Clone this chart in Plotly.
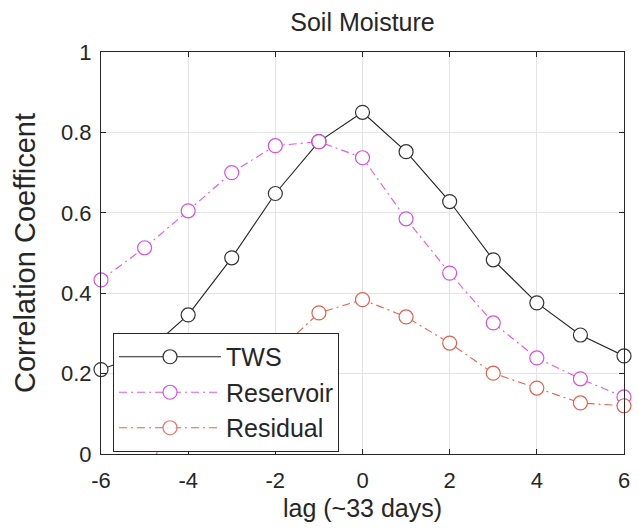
import plotly.graph_objects as go

lags = [-6, -5, -4, -3, -2, -1, 0, 1, 2, 3, 4, 5, 6]
tws = [0.21, 0.25, 0.346, 0.488, 0.648, 0.777, 0.85, 0.752, 0.628, 0.483, 0.376, 0.296, 0.244]
reservoir = [0.433, 0.513, 0.605, 0.70, 0.767, 0.777, 0.737, 0.585, 0.45, 0.326, 0.239, 0.187, 0.142]
residual = [-0.09, -0.02, 0.06, 0.16, 0.25, 0.351, 0.384, 0.341, 0.276, 0.201, 0.164, 0.127, 0.12]

x_ticks = [-6, -4, -2, 0, 2, 4, 6]
x_ticktext = ["-6", "-4", "-2", "0", "2", "4", "6"]
y_ticks = [0, 0.2, 0.4, 0.6, 0.8, 1]
y_ticktext = ["0", "0.2", "0.4", "0.6", "0.8", "1"]

FONT = "Liberation Sans, Arial, sans-serif"
INK = "#262626"
DASHDOT = "8px,4px,2px,4px"

fig = go.Figure()

fig.add_trace(go.Scatter(
    x=lags, y=tws, name="TWS", mode="lines+markers",
    line=dict(color="#222222", width=1.1),
    marker=dict(symbol="circle", size=14, color="white",
                line=dict(color="#333333", width=1.2)),
    cliponaxis=False,
))
fig.add_trace(go.Scatter(
    x=lags, y=reservoir, name="Reservoir", mode="lines+markers",
    line=dict(color="#e35ae3", width=1.1, dash=DASHDOT),
    marker=dict(symbol="circle", size=14, color="white",
                line=dict(color="#d84fe0", width=1.2)),
    cliponaxis=False,
))
fig.add_trace(go.Scatter(
    x=lags, y=residual, name="Residual", mode="lines+markers",
    line=dict(color="#e6604f", width=1.1, dash=DASHDOT),
    marker=dict(symbol="circle", size=14, color="white",
                opacity=[1 if v >= 0 else 0 for v in residual],
                line=dict(color="#e0604f", width=1.2)),
    cliponaxis=False,
))

axis_common = dict(
    showline=True, linecolor=INK, linewidth=1, mirror="ticks",
    ticks="inside", ticklen=5, tickcolor=INK, tickwidth=1,
    showgrid=True, gridcolor="#e4e4e4", gridwidth=1,
    zeroline=False,
    tickfont=dict(family=FONT, size=22, color=INK),
)

fig.update_layout(
    width=639, height=530,
    margin=dict(l=101, r=9, t=52, b=76),
    paper_bgcolor="white", plot_bgcolor="white",
    font=dict(family=FONT, color=INK),
    title=dict(text="Soil Moisture", x=0.5, xref="paper", xanchor="center",
               y=1 - 22 / 530, yref="container", yanchor="middle",
               font=dict(family=FONT, size=25, color=INK)),
    xaxis=dict(range=[-6, 6], tickvals=x_ticks, ticktext=x_ticktext,
               ticklabelstandoff=7,
               title=dict(text="lag (~33 days)", standoff=7,
                          font=dict(family=FONT, size=25, color=INK)),
               **axis_common),
    yaxis=dict(range=[0, 1], tickvals=y_ticks, ticktext=y_ticktext,
               ticklabelstandoff=4,
               title=dict(text="Correlation Coefficent", standoff=16,
                          font=dict(family=FONT, size=29, color=INK)),
               **axis_common),
    showlegend=True,
    legend=dict(x=0.023, y=0.301, xanchor="left", yanchor="top",
                bgcolor="white", bordercolor=INK, borderwidth=1,
                font=dict(family=FONT, size=25, color=INK),
                itemwidth=102, tracegroupgap=0),
)

fig.write_html("out.html")
